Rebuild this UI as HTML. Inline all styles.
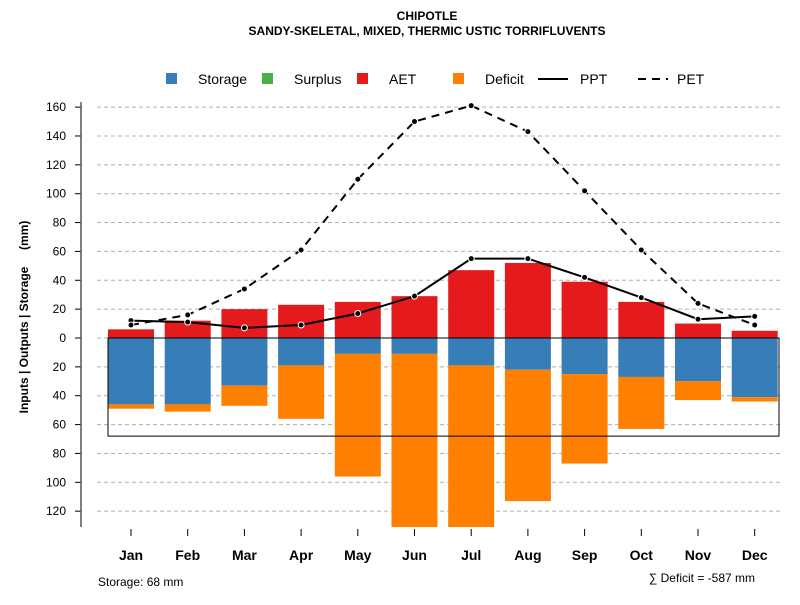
<!DOCTYPE html>
<html><head><meta charset="utf-8"><style>
body{margin:0;background:#fff;}
svg text{font-family:"Liberation Sans",sans-serif;}
</style></head><body>
<svg id="c" width="800" height="600" xmlns="http://www.w3.org/2000/svg">
<text x="427" y="20" text-anchor="middle" font-size="12" font-weight="bold">CHIPOTLE</text>
<text x="427" y="35" text-anchor="middle" font-size="12" font-weight="bold">SANDY-SKELETAL, MIXED, THERMIC USTIC TORRIFLUVENTS</text>
<g>
<rect x="166" y="73" width="11" height="11" fill="#377EB8"/>
<text x="198" y="84" font-size="14">Storage</text>
<rect x="262" y="73" width="11" height="11" fill="#4DAF4A"/>
<text x="294" y="84" font-size="14">Surplus</text>
<rect x="357" y="73" width="11" height="11" fill="#E41A1C"/>
<text x="389" y="84" font-size="14">AET</text>
<rect x="453" y="73" width="11" height="11" fill="#FF7F00"/>
<text x="485" y="84" font-size="14">Deficit</text>
<line x1="538" y1="79" x2="568" y2="79" stroke="#000" stroke-width="2"/>
<text x="580" y="84" font-size="14">PPT</text>
<line x1="638" y1="79" x2="668" y2="79" stroke="#000" stroke-width="2" stroke-dasharray="8,6"/>
<text x="677" y="84" font-size="14">PET</text>
</g>
<text transform="translate(28,317) rotate(-90)" text-anchor="middle" font-size="12" font-weight="bold" xml:space="preserve" style="white-space:pre">Inputs | Outputs | Storage     (mm)</text>
<text x="98" y="586" font-size="12">Storage: 68 mm</text>
<text x="755" y="582" text-anchor="end" font-size="12">∑ Deficit = -587 mm</text>
<g id="g"></g>
</svg>
<script>
const months=["Jan","Feb","Mar","Apr","May","Jun","Jul","Aug","Sep","Oct","Nov","Dec"];
const aet=[6,12,20,23,25,29,47,52,39,25,10,5];
const storage=[46,46,33,19,11,11,19,22,25,27,30,41];
const deficit=[3,5,14,37,85,120,112,91,62,36,13,3];
const ppt=[12,11,7,9,17,29,55,55,42,28,13,15];
const pet=[9,16,34,61,110,150,161,143,102,61,24,9];
const yTicks=[160,140,120,100,80,60,40,20,0,-20,-40,-60,-80,-100,-120];
const storageCap=68;
const NS="http://www.w3.org/2000/svg";
const g=document.getElementById('g');
const y=v=>338-v*1.443;
const x=i=>131+i*56.7;
const bw=46;
function mk(t,a){const e=document.createElementNS(NS,t);for(const k in a)e.setAttribute(k,a[k]);g.appendChild(e);return e;}
yTicks.forEach(t=>{
 const gl=mk('line',{x1:97,x2:780,y1:y(t),y2:y(t),stroke:'#b0b0b0','stroke-dasharray':'4,3'});
 
 
 const tk=mk('line',{x1:75,x2:81,y1:y(t),y2:y(t),stroke:'#000'});
 
 
 const tl=mk('text',{x:66,y:y(t)+4,'text-anchor':'end','font-size':12});
 tl.textContent=Math.abs(t);
 
 
});
const ax=mk('line',{x1:81,x2:81,y1:y(160)-5,y2:527,stroke:'#555','stroke-width':1.5});


months.forEach((m,i)=>{
 const a=mk('rect',{x:x(i)-bw/2,y:y(aet[i]),width:bw,height:y(0)-y(aet[i]),fill:'#E41A1C'});
 
 
 const s=mk('rect',{x:x(i)-bw/2,y:y(0),width:bw,height:y(-storage[i])-y(0),fill:'#377EB8'});
 
 
 const d=mk('rect',{x:x(i)-bw/2,y:y(-storage[i]),width:bw,height:y(-storage[i]-deficit[i])-y(-storage[i]),fill:'#FF7F00'});
 
 
 const tk=mk('line',{x1:x(i),x2:x(i),y1:529,y2:536,stroke:'#000'});
 
 
 const l=mk('text',{x:x(i),y:560,'text-anchor':'middle','font-size':14,'font-weight':'bold'});
 l.textContent=m;
 
 
});
const sr=mk('rect',{x:108,y:y(0),width:671,height:y(-storageCap)-y(0),fill:'none',stroke:'#000'});


function line(vals,name,dash){
 const p=mk('polyline',{points:vals.map((v,i)=>x(i)+','+y(v)).join(' '),fill:'none',stroke:'#000','stroke-width':2,'stroke-dasharray':dash||'none'});
 
 
 vals.forEach((v,i)=>{
  const c=mk('circle',{cx:x(i),cy:y(v),r:3,fill:'#000',stroke:'#fff','stroke-width':1});
  
  
 });
}
line(ppt,'ppt');
line(pet,'pet','8,6');
</script>
</body></html>
